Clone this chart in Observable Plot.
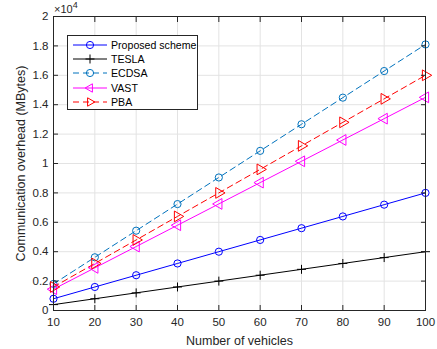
<!DOCTYPE html>
<html><head><meta charset="utf-8">
<script src="https://cdn.jsdelivr.net/npm/d3@7"></script>
<script src="https://cdn.jsdelivr.net/npm/@observablehq/plot@0.6"></script>
<style>
body{margin:0;background:#fff;font-family:"Liberation Sans",Arial,sans-serif;}
#wrap{position:relative;width:437px;height:349px;}
#legend{position:absolute;left:67px;top:35px;width:131px;height:75px;border:1px solid #262626;background:#fff;box-sizing:border-box;z-index:2;}
.row{position:absolute;left:0;height:14px;display:flex;align-items:center;font-size:10.6px;color:#000;white-space:nowrap;}
.row svg{display:block;margin-left:5px;margin-right:4px;}
#expo{position:absolute;left:54px;top:0px;font-size:11px;color:#262626;z-index:2;}
#expo sup{font-size:9px;}
</style></head>
<body><div id="wrap"><div id="expo">×10<sup>4</sup></div><div id="legend"></div></div>
<script>
const vehicles = [10, 20, 30, 40, 50, 60, 70, 80, 90, 100];
const proposed = [0.08, 0.16, 0.24, 0.32, 0.40, 0.48, 0.56, 0.64, 0.72, 0.80];
const tesla    = [0.04, 0.08, 0.12, 0.16, 0.20, 0.24, 0.28, 0.32, 0.36, 0.40];
const ecdsa    = [0.181, 0.362, 0.543, 0.724, 0.905, 1.086, 1.267, 1.448, 1.629, 1.81];
const vast     = [0.145, 0.29, 0.435, 0.58, 0.725, 0.87, 1.015, 1.16, 1.305, 1.45];
const pba      = [0.16, 0.32, 0.48, 0.64, 0.80, 0.96, 1.12, 1.28, 1.44, 1.60];
const xTicks = [10, 20, 30, 40, 50, 60, 70, 80, 90, 100];
const yTicks = [0, 0.2, 0.4, 0.6, 0.8, 1, 1.2, 1.4, 1.6, 1.8, 2];
const yTickLabels = ["0", "0.2", "0.4", "0.6", "0.8", "1", "1.2", "1.4", "1.6", "1.8", "2"];
const seriesNames = ["Proposed scheme", "TESLA", "ECDSA", "VAST", "PBA"];
const xLabel = "Number of vehicles";
const yLabel = "Communication overhead (MBytes)";

const styles = {
  "Proposed scheme": {color: "#0000ff", dash: null, symbol: "circle", rotate: 0, r: 3.6},
  "TESLA": {color: "#000000", dash: null, symbol: "plus", rotate: 0, r: 3},
  "ECDSA": {color: "#0072bd", dash: "6,4", symbol: "circle", rotate: 0, r: 3.6},
  "VAST": {color: "#ff00ff", dash: null, symbol: "triangle", rotate: -90, r: 4},
  "PBA": {color: "#ff0000", dash: "6,4", symbol: "triangle", rotate: 90, r: 4}
};
const values = [proposed, tesla, ecdsa, vast, pba];
const series = seriesNames.map((name, i) => ({name, data: vehicles.map((v, j) => ({x: v, y: values[i][j]}))}));

const marks = [
  Plot.gridX(xTicks, {stroke: "#e3e3e3", strokeOpacity: 1}),
  Plot.gridY(yTicks, {stroke: "#e3e3e3", strokeOpacity: 1}),
];
for (const s of series) {
  const st = styles[s.name];
  marks.push(Plot.line(s.data, {x: "x", y: "y", stroke: st.color, strokeWidth: 1, strokeDasharray: st.dash}));
}
for (const s of series) {
  const st = styles[s.name];
  marks.push(Plot.dot(s.data, {x: "x", y: "y", stroke: st.color, fill: "none", symbol: st.symbol, r: st.r, rotate: st.rotate, strokeWidth: 1}));
}
marks.push(
  Plot.frame({stroke: "#262626"}),
  Plot.axisX(xTicks, {anchor: "bottom", tickSize: -5, tickPadding: 12, stroke: "#262626", fill: "#262626", fontSize: 11.5, label: null}),
  Plot.axisX(xTicks, {anchor: "top", tickSize: -5, tickFormat: () => "", stroke: "#262626", label: null}),
  Plot.axisY(yTicks, {anchor: "left", tickSize: -5, tickPadding: 10, stroke: "#262626", fill: "#262626", fontSize: 11.5,
    tickFormat: d => yTickLabels[yTicks.indexOf(d)], label: null}),
  Plot.axisY(yTicks, {anchor: "right", tickSize: -5, tickFormat: () => "", stroke: "#262626", label: null}),
  Plot.text([xLabel], {frameAnchor: "bottom", dy: 30, lineAnchor: "middle", fontSize: 12.5, fill: "#262626", text: d => d}),
  Plot.text([yLabel], {frameAnchor: "left", dx: -33, rotate: -90, textAnchor: "middle", lineAnchor: "middle", fontSize: 12.5, fill: "#262626", text: d => d})
);

const chart = Plot.plot({
  width: 437, height: 349,
  marginLeft: 53, marginRight: 12, marginTop: 16, marginBottom: 39,
  style: {fontFamily: "Liberation Sans, Arial, sans-serif", fontSize: "12px", color: "#262626", background: "#fff"},
  x: {domain: [10, 100]},
  y: {domain: [0, 2]},
  marks
});
document.getElementById("wrap").prepend(chart);
chart.style.position = "absolute"; chart.style.left = "0"; chart.style.top = "0";

// Legend
const leg = document.getElementById("legend");
seriesNames.forEach((name, i) => {
  const st = styles[name];
  const row = document.createElement("div");
  row.className = "row";
  row.style.top = (1.7 + i * 14.3) + "px";
  const sym = d3.symbol().type(st.symbol === "circle" ? d3.symbolCircle : st.symbol === "plus" ? d3.symbolPlus : d3.symbolTriangle2).size(Math.PI * st.r * st.r)();
  row.innerHTML = `<svg width="34" height="14"><line x1="0" x2="34" y1="7" y2="7" stroke="${st.color}" ${st.dash ? `stroke-dasharray="${st.dash}"` : ""}/>` +
    `<path d="${sym}" transform="translate(17,7) rotate(${st.rotate})" fill="none" stroke="${st.color}"/></svg><span>${name}</span>`;
  leg.appendChild(row);
});
</script></body></html>
